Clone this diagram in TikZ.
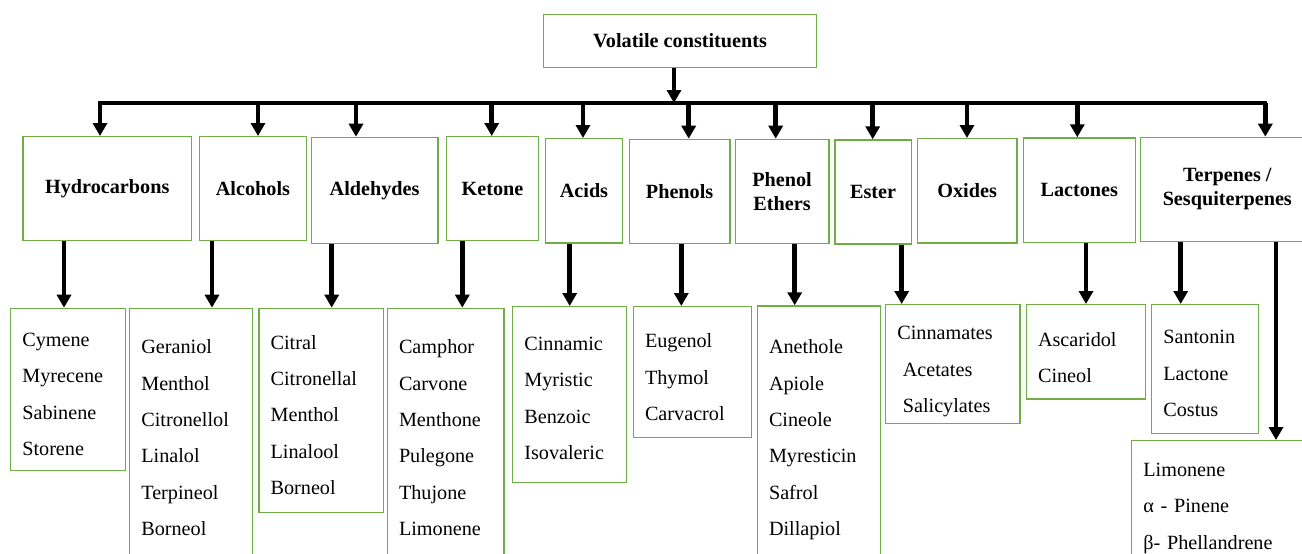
\documentclass[tikz,border=0pt]{standalone}
\usepackage{fontspec}
\setmainfont{LiberationSerif}[Extension=.ttf,UprightFont=*-Regular,BoldFont=*-Bold,ItalicFont=*-Italic,BoldItalicFont=*-BoldItalic]
\usetikzlibrary{arrows.meta}
\definecolor{boxgreen}{HTML}{70AD47}
\begin{document}
\begin{tikzpicture}[x=0.02cm,y=-0.02cm,
  head/.style={draw=boxgreen,line width=0.7pt,anchor=north west,inner sep=0pt,align=center,font=\fontsize{11.5}{13.7}\selectfont\bfseries},
  items/.style={draw=boxgreen,line width=0.7pt,anchor=north west,inner ysep=0pt,inner xsep=0.234cm,align=left,font=\fontsize{11.5}{20.66}\selectfont},
  arr/.style={draw,line width=2.6pt,-{Triangle[width=0.28cm,length=0.26cm]}},
  bus/.style={draw,line width=1.8pt,line cap=rect}]
\useasboundingbox (0,0) rectangle (1302,554);
\clip (0,0) rectangle (1302,554);

\node[head,minimum width=5.46cm,minimum height=1.06cm] (0) at (543,14) {Volatile constituents};

\node[head,minimum width=3.374cm,minimum height=2.08cm] (1) at (22.3,136) {Hydrocarbons};
\node[head,minimum width=2.134cm,minimum height=2.08cm] (2) at (199,136) {Alcohols};
\node[head,minimum width=2.532cm,minimum height=2.12cm] (3) at (310.7,136.7) {Aldehydes};
\node[head,minimum width=1.846cm,minimum height=2.08cm] (4) at (445.7,136) {Ketone};
\node[head,minimum width=1.546cm,minimum height=2.086cm] (5) at (544.7,138) {Acids};
\node[head,minimum width=2.012cm,minimum height=2.086cm] (6) at (628.7,138.7) {Phenols};
\node[head,minimum width=1.872cm,minimum height=2.086cm] (7) at (734.7,138.7) {Phenol\\Ethers};
\node[head,minimum width=1.528cm,minimum height=2.08cm] (8) at (834.3,139.3) {Ester};
\node[head,minimum width=1.992cm,minimum height=2.086cm] (9) at (916.7,138) {Oxides};
\node[head,minimum width=2.24cm,minimum height=2.094cm] (10) at (1022.7,137.3) {Lactones};
\node[head,minimum width=3.48cm,minimum height=2.086cm] (11) at (1139.7,136.7) {Terpenes /\\Sesquiterpenes};

\node[items,text width=1.826cm,text height=0.762cm,text depth=2.484cm] (1a) at (10,307.7) {Cymene\\Myrecene\\Sabinene\\Storene};
\node[items,text width=1.992cm,text height=0.91cm,text depth=4.936cm] (2a) at (129,307.7) {Geraniol\\Menthol\\Citronellol\\Linalol\\Terpineol\\Borneol};
\node[items,text width=2.02cm,text height=0.816cm,text depth=3.276cm] (3a) at (258.3,307.7) {Citral\\Citronellal\\Menthol\\Linalool\\Borneol};
\node[items,text width=1.868cm,text height=0.91cm,text depth=4.936cm] (4a) at (386.7,307.7) {Camphor\\Carvone\\Menthone\\Pulegone\\Thujone\\Limonene};
\node[items,text width=1.814cm,text height=0.876cm,text depth=2.638cm] (5a) at (512,306) {Cinnamic\\Myristic\\Benzoic\\Isovaleric};
\node[items,text width=1.894cm,text height=0.824cm,text depth=1.79cm] (6a) at (632.7,306) {Eugenol\\Thymol\\Carvacrol};
\node[items,text width=1.998cm,text height=0.958cm,text depth=4.936cm] (7a) at (756.7,305.3) {Anethole\\Apiole\\Cineole\\Myresticin\\Safrol\\Dillapiol};
\node[items,text width=2.218cm,text height=0.704cm,text depth=1.67cm] (8a) at (885,304) {Cinnamates\\\hspace*{0.11cm}Acetates\\\hspace*{0.11cm}Salicylates};
\node[items,text width=1.918cm,text height=0.83cm,text depth=1.056cm] (10a) at (1025.7,304) {Ascaridol\\Cineol};
\node[items,text width=1.666cm,text height=0.784cm,text depth=1.79cm] (11a) at (1151,304) {Santonin\\Lactone\\Costus};
\node[items,text width=3.532cm,text height=0.716cm,text depth=2.484cm] (11b) at (1131,440) {Limonene\\α - Pinene\\β- Phellandrene};

% bus line
\coordinate (b1) at (100,103);
\coordinate (b2) at (258,103);
\coordinate (b3) at (356,103);
\coordinate (b4) at (491.7,103);
\coordinate (b5) at (583,103);
\coordinate (b6) at (688.7,103);
\coordinate (b7) at (775.7,103);
\coordinate (b8) at (872.7,103);
\coordinate (b9) at (967,103);
\coordinate (b10) at (1077.3,103);
\coordinate (b11) at (1265.3,103);
\path[bus] (b1) -- (b11);
\path[arr] (0.south -| 674,0) -- (b1 -| 674,0);

\path[arr] (b1) -- (b1 |- 1.north);
\path[arr] (b2) -- (b2 |- 2.north);
\path[arr] (b3) -- (b3 |- 3.north);
\path[arr] (b4) -- (b4 |- 4.north);
\path[arr] (b5) -- (b5 |- 5.north);
\path[arr] (b6) -- (b6 |- 6.north);
\path[arr] (b7) -- (b7 |- 7.north);
\path[arr] (b8) -- (b8 |- 8.north);
\path[arr] (b9) -- (b9 |- 9.north);
\path[arr] (b10) -- (b10 |- 10.north);
\path[arr] (b11) -- (b11 |- 11.north);

% second level
\path[arr] (1.south -| 64,0) -- (1a.north -| 64,0);
\path[arr] (2.south -| 212,0) -- (2a.north -| 212,0);
\path[arr] (3.south -| 331.7,0) -- (3a.north -| 331.7,0);
\path[arr] (4.south -| 462.3,0) -- (4a.north -| 462.3,0);
\path[arr] (5.south -| 569.7,0) -- (5a.north -| 569.7,0);
\path[arr] (6.south -| 681.3,0) -- (6a.north -| 681.3,0);
\path[arr] (7.south -| 794.7,0) -- (7a.north -| 794.7,0);
\path[arr] (8.south -| 901.7,0) -- (8a.north -| 901.7,0);
\path[arr] (10.south -| 1086,0) -- (10a.north -| 1086,0);
\path[arr] (11.south -| 1180.7,0) -- (11a.north -| 1180.7,0);
\path[arr] (11.south -| 1276,0) -- (11b.north -| 1276,0);
\end{tikzpicture}
\end{document}
